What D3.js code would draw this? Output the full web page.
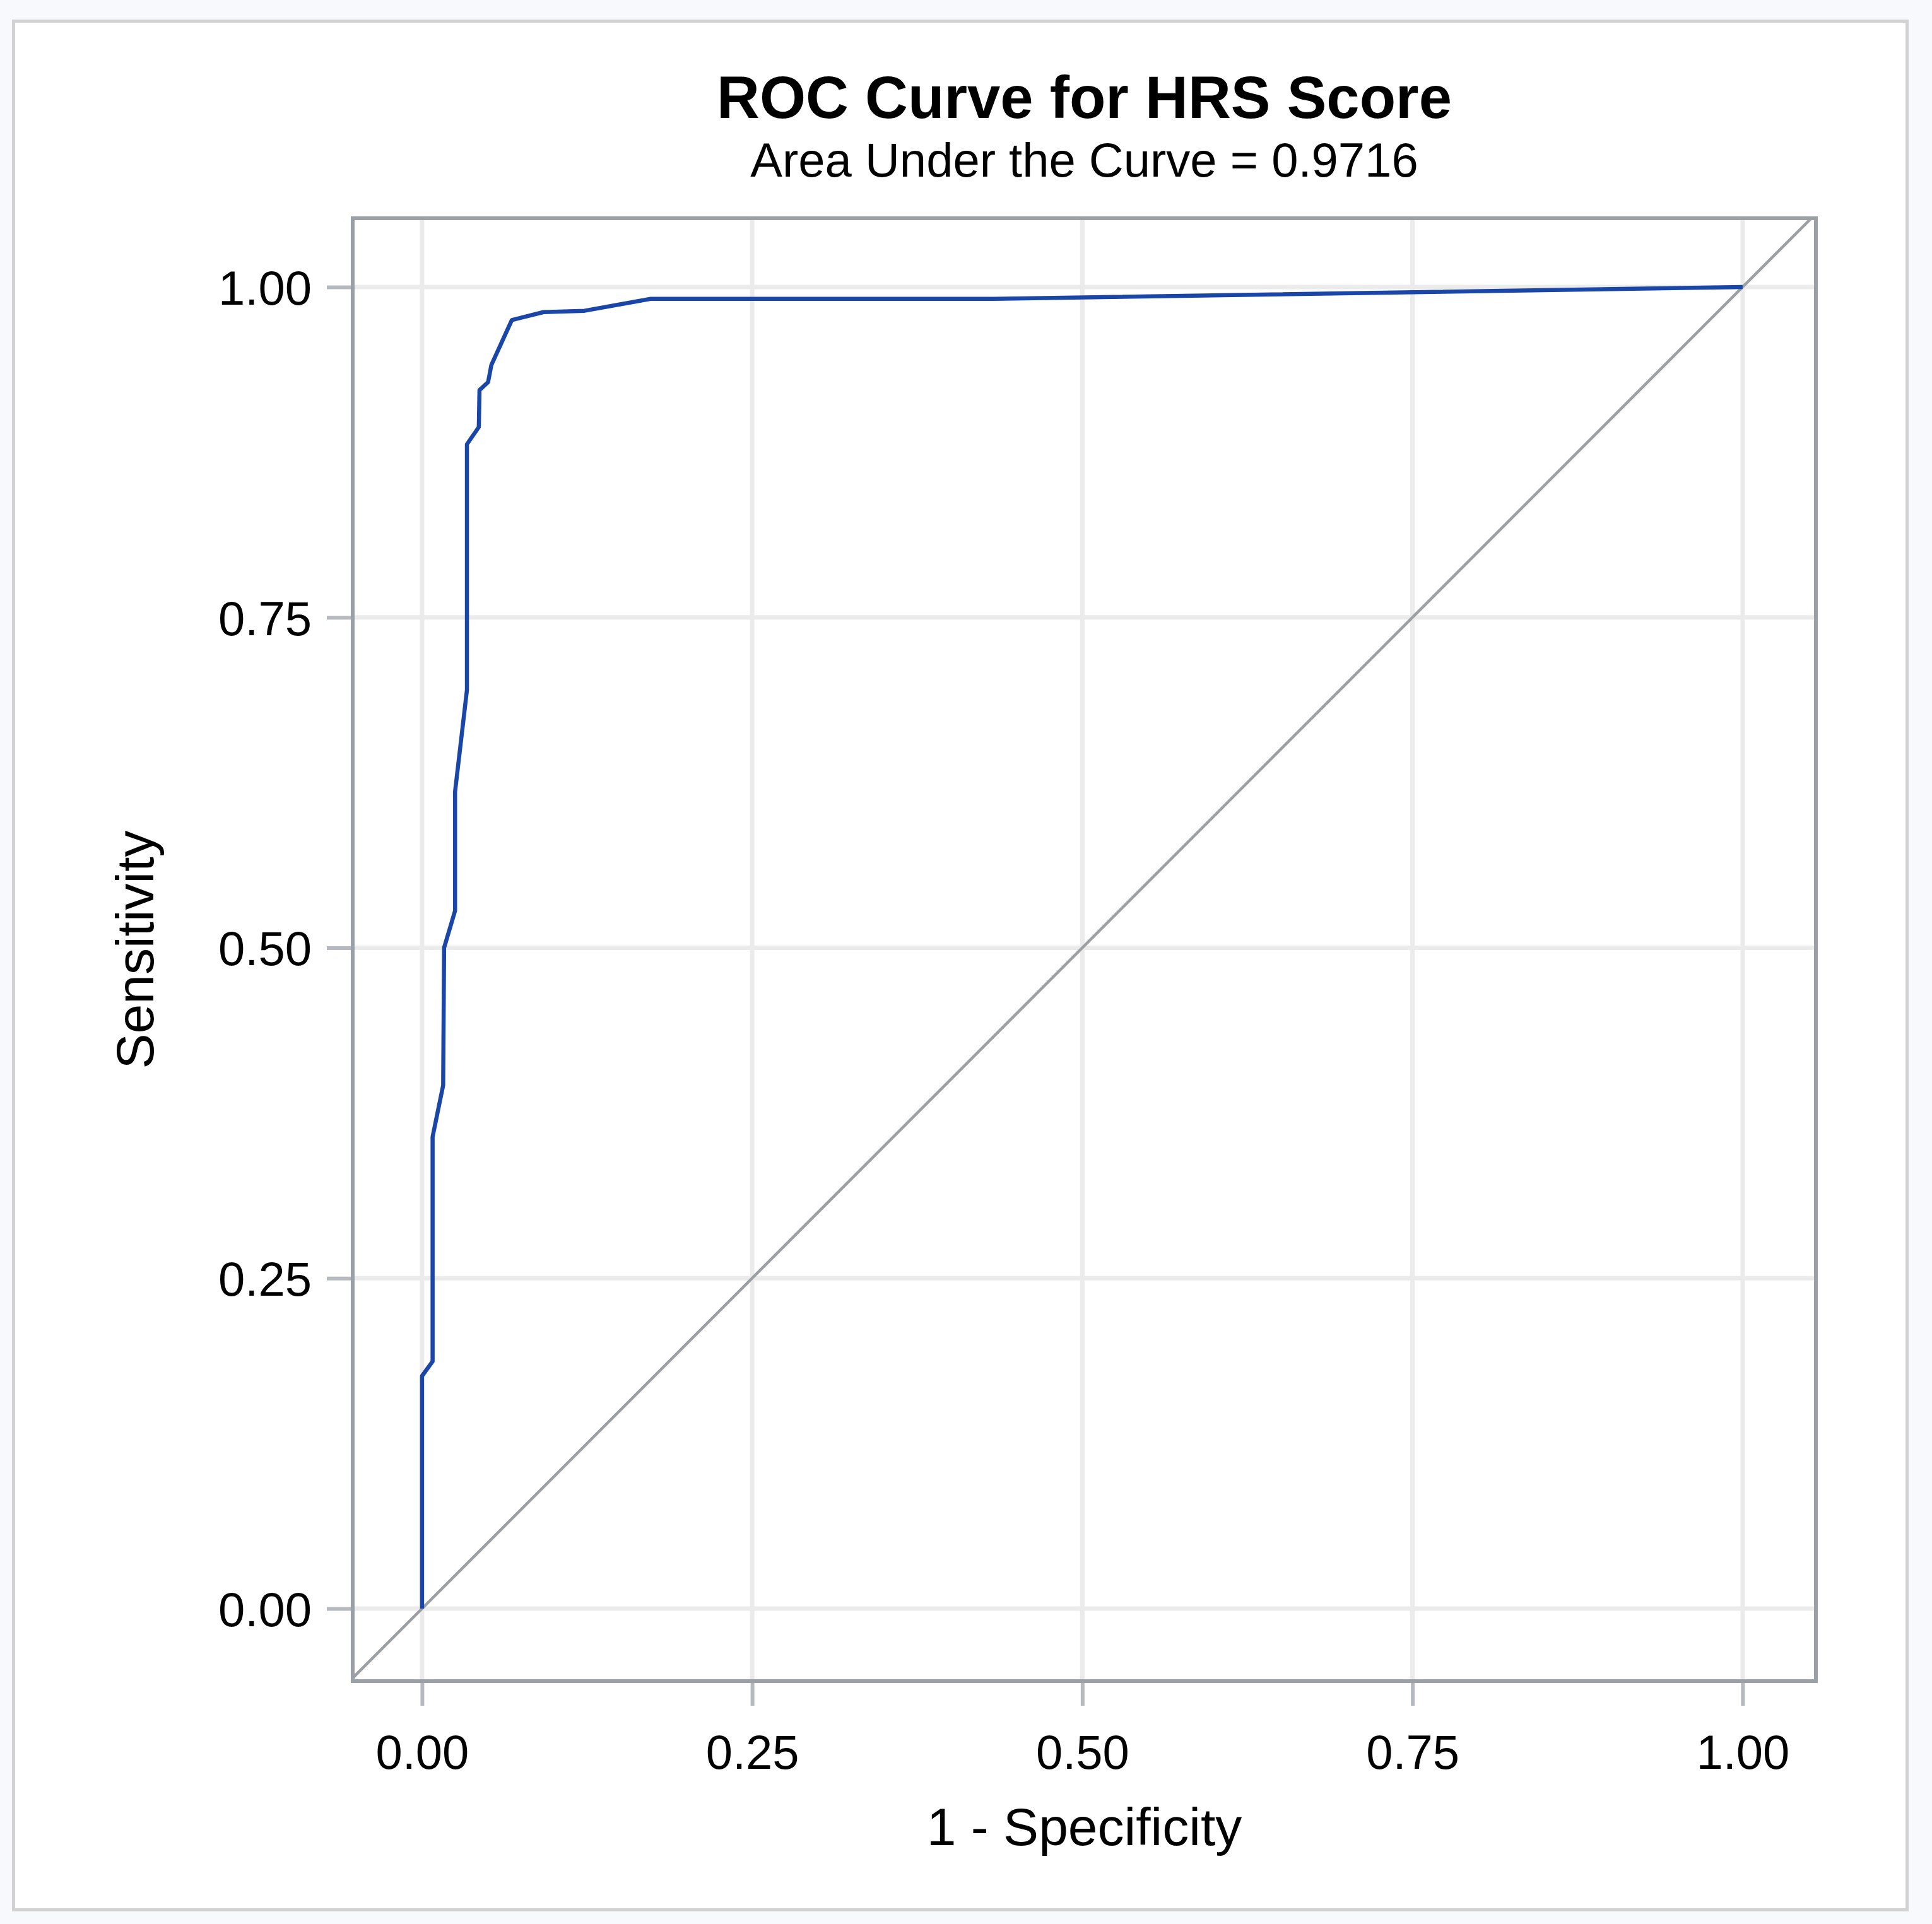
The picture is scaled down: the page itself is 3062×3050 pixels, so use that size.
<!DOCTYPE html>
<html>
<head>
<meta charset="utf-8">
<script src="https://cdn.jsdelivr.net/npm/d3@7/dist/d3.min.js"></script>
<style>
  html, body { margin: 0; padding: 0; background: #f8f9fd; }
  svg { display: block; }
  text { font-family: "Liberation Sans", Arial, sans-serif; fill: #000; }
</style>
</head>
<body>
<script>
// ---- data ----
const title = "ROC Curve for HRS Score";
const subtitle = "Area Under the Curve = 0.9716";
const xLabel = "1 - Specificity";
const yLabel = "Sensitivity";
const tickValues = [0, 0.25, 0.5, 0.75, 1];
const tickLabels = ["0.00", "0.25", "0.50", "0.75", "1.00"];
// ROC curve points: 1 - specificity (fpr) and sensitivity (tpr)
const fpr = [0, 0, 0.008, 0.008, 0.016, 0.0167, 0.025, 0.025, 0.034, 0.034, 0.043, 0.0435, 0.050, 0.0525, 0.068, 0.092, 0.123, 0.173, 0.433, 1];
const tpr = [0, 0.176, 0.187, 0.357, 0.396, 0.500, 0.528, 0.618, 0.695, 0.881, 0.894, 0.922, 0.928, 0.941, 0.975, 0.981, 0.982, 0.991, 0.991, 1];
const refLine = [-0.06, 1.06]; // chance diagonal

// ---- layout ----
const W = 3062, H = 3050;
const frame = { left: 559, right: 2878, top: 346, bottom: 2665 };
const xDomain = [-0.0525, 1.0555];
const yDomain = [-0.0549, 1.052];

const svg = d3.select("body").append("svg").attr("width", W).attr("height", H);

// page background + outer box
svg.append("rect").attr("x", 0).attr("y", 0).attr("width", W).attr("height", H).attr("fill", "#f8f9fd");
svg.append("rect").attr("x", 21.5).attr("y", 33.5).attr("width", 3001).attr("height", 2994)
  .attr("fill", "#ffffff").attr("stroke", "#d2d2d2").attr("stroke-width", 5);

const x = d3.scaleLinear().domain(xDomain).range([frame.left, frame.right]);
const y = d3.scaleLinear().domain(yDomain).range([frame.bottom, frame.top]);

// clip
svg.append("clipPath").attr("id", "plotclip").append("rect")
  .attr("x", frame.left).attr("y", frame.top)
  .attr("width", frame.right - frame.left).attr("height", frame.bottom - frame.top);

// gridlines
const grid = svg.append("g");
grid.selectAll("line.vg").data(tickValues).join("line")
  .attr("x1", d => x(d)).attr("x2", d => x(d))
  .attr("y1", frame.top).attr("y2", frame.bottom)
  .attr("stroke", "#ebebeb").attr("stroke-width", 7);
grid.selectAll("line.hg").data(tickValues).join("line")
  .attr("y1", d => y(d)).attr("y2", d => y(d))
  .attr("x1", frame.left).attr("x2", frame.right)
  .attr("stroke", "#ebebeb").attr("stroke-width", 7);

// axes with d3 axis generators
const xAxis = d3.axisBottom(x).tickValues(tickValues)
  .tickFormat((d, i) => tickLabels[i]).tickSize(36).tickPadding(46);
const yAxis = d3.axisLeft(y).tickValues(tickValues)
  .tickFormat((d, i) => tickLabels[i]).tickSize(38).tickPadding(24);

const gx = svg.append("g").attr("transform", `translate(0,${frame.bottom + 3})`).call(xAxis);
const gy = svg.append("g").attr("transform", `translate(${frame.left - 3},0)`).call(yAxis);
[gx, gy].forEach(g => {
  g.select(".domain").remove();
  g.selectAll(".tick line").attr("stroke", "#b6babe").attr("stroke-width", 6);
  g.selectAll(".tick text").style("font-family", "'Liberation Sans', Arial, sans-serif")
    .style("font-size", "76px").attr("fill", "#000");
});
gx.selectAll(".tick text").attr("dy", "0.71em");
gy.selectAll(".tick text").attr("dy", "0.36em");

// chance diagonal
const plot = svg.append("g").attr("clip-path", "url(#plotclip)");
plot.append("line")
  .attr("x1", x(refLine[0])).attr("y1", y(refLine[0]))
  .attr("x2", x(refLine[1])).attr("y2", y(refLine[1]))
  .attr("stroke", "#9ba0a5").attr("stroke-width", 4.5);

// ROC curve
const pts = fpr.map((f, i) => [f, tpr[i]]);
plot.append("path").datum(pts)
  .attr("d", d3.line().x(d => x(d[0])).y(d => y(d[1])))
  .attr("fill", "none").attr("stroke", "#1a46a8").attr("stroke-width", 6.5)
  .attr("stroke-linejoin", "round");

// frame
svg.append("rect").attr("x", frame.left).attr("y", frame.top)
  .attr("width", frame.right - frame.left).attr("height", frame.bottom - frame.top)
  .attr("fill", "none").attr("stroke", "#9aa0a6").attr("stroke-width", 6);

const cx = (frame.left + frame.right) / 2;
// titles
svg.append("text").attr("x", cx).attr("y", 187).attr("text-anchor", "middle")
  .style("font-size", "94px").style("font-weight", "bold").text(title);
svg.append("text").attr("x", cx).attr("y", 280).attr("text-anchor", "middle")
  .style("font-size", "76px").text(subtitle);

// axis labels
svg.append("text").attr("x", cx).attr("y", 2925).attr("text-anchor", "middle")
  .style("font-size", "84px").text(xLabel);
svg.append("text").attr("transform", `translate(243,${(frame.top + frame.bottom) / 2}) rotate(-90)`)
  .attr("text-anchor", "middle").style("font-size", "84px").text(yLabel);
</script>
</body>
</html>
